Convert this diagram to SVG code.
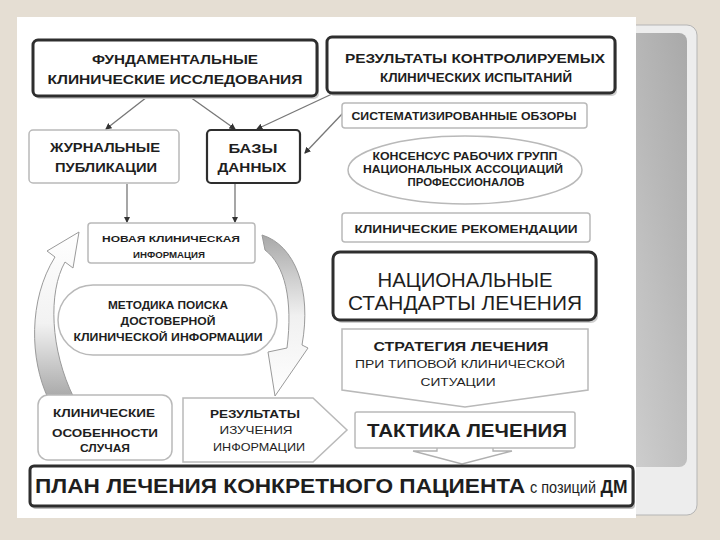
<svg xmlns="http://www.w3.org/2000/svg" width="720" height="540" viewBox="0 0 720 540">
<defs>
<linearGradient id="panel" x1="1" y1="0" x2="0" y2="1">
<stop offset="0" stop-color="#a9a9a9"/>
<stop offset="1" stop-color="#d6d6d6"/>
</linearGradient>
<linearGradient id="leftArr" x1="0" y1="0" x2="0" y2="1">
<stop offset="0" stop-color="#ffffff"/>
<stop offset="0.55" stop-color="#f2f2f2"/>
<stop offset="1" stop-color="#a8a8a8"/>
</linearGradient>
<linearGradient id="rightArr" x1="0" y1="0" x2="0" y2="1">
<stop offset="0" stop-color="#a8a8a8"/>
<stop offset="0.5" stop-color="#f0f0f0"/>
<stop offset="1" stop-color="#ffffff"/>
</linearGradient>
<marker id="dot" viewBox="0 0 6 6" refX="5" refY="3" markerWidth="5" markerHeight="5" orient="auto">
<path d="M0,0 L6,3 L0,6 Z" fill="#333"/>
</marker>
</defs>
<style>
text{font-family:"Liberation Sans",Arial,sans-serif;fill:#1e1e1e;text-anchor:middle}
.b{font-weight:bold}
.dark{fill:#fff;stroke:#2e2e2e;stroke-width:3}
.light{fill:#fff;stroke:#b9b9b9;stroke-width:1.5}
.shadow{fill:#cfcfcf}
.conn{stroke:#777;stroke-width:1.3;fill:none;marker-end:url(#dot)}
.curve{stroke:#9a9a9a;stroke-width:1;}
</style>
<rect x="0" y="0" width="720" height="540" fill="#e5ded3"/>
<rect x="20" y="25" width="677" height="490" rx="10" fill="#ededed" stroke="#b5b5b5" stroke-width="1"/>
<rect x="600" y="33" width="87" height="434" rx="8" fill="url(#panel)"/>
<rect x="17" y="17" width="619" height="501" fill="#ffffff"/>

<g id="connectors">
<line class="conn" x1="147" y1="97" x2="106" y2="129"/>
<line class="conn" x1="190" y1="97" x2="235" y2="129"/>
<line class="conn" x1="332" y1="94" x2="257" y2="129"/>
<line class="conn" x1="343" y1="113" x2="305" y2="153"/>
<line class="conn" x1="127" y1="184" x2="127" y2="222"/>
<line class="conn" x1="235" y1="184" x2="235" y2="222"/>
<path class="curve" fill="url(#leftArr)" d="M48 398 C30 360 28 300 55 257 L47 251 L79 232 L73 268 L65 262 C48 292 50 350 74 398 Z"/>
<path class="curve" fill="url(#rightArr)" d="M262 235 C295 245 312 290 302 345 L308 348 L275 396 L268 352 L287 348 C293 300 285 265 265 250 Z"/>
<polygon points="413,451 437,451 437,447 493,447 493,451 512,451 462,464" fill="#fff" stroke="#b0b0b0" stroke-width="1.3"/>
</g>

<g id="fund">
<rect x="35" y="43" width="284" height="56" rx="5" class="shadow"/>
<rect x="33" y="40" width="284" height="56" rx="5" class="dark"/>
<text class="b" x="175" y="64" font-size="13" textLength="166" lengthAdjust="spacingAndGlyphs">ФУНДАМЕНТАЛЬНЫЕ</text>
<text class="b" x="175" y="84" font-size="13" textLength="255" lengthAdjust="spacingAndGlyphs">КЛИНИЧЕСКИЕ ИССЛЕДОВАНИЯ</text>
</g>

<g id="results-trials">
<rect x="329" y="40" width="288" height="56" rx="5" class="shadow"/>
<rect x="327" y="37" width="288" height="56" rx="5" class="dark"/>
<text class="b" x="475" y="63" font-size="13" textLength="260" lengthAdjust="spacingAndGlyphs">РЕЗУЛЬТАТЫ КОНТРОЛИРУЕМЫХ</text>
<text class="b" x="476" y="82" font-size="13" textLength="192" lengthAdjust="spacingAndGlyphs">КЛИНИЧЕСКИХ ИСПЫТАНИЙ</text>
</g>

<g id="reviews">
<rect x="342" y="103" width="245" height="25" rx="3" class="light"/>
<text class="b" x="464" y="120" font-size="10.5" textLength="225" lengthAdjust="spacingAndGlyphs">СИСТЕМАТИЗИРОВАННЫЕ ОБЗОРЫ</text>
</g>

<g id="consensus">
<ellipse cx="465" cy="170" rx="117" ry="34" class="light"/>
<text class="b" x="465" y="160" font-size="10" textLength="185" lengthAdjust="spacingAndGlyphs">КОНСЕНСУС РАБОЧИХ ГРУПП</text>
<text class="b" x="463" y="173" font-size="10" textLength="200" lengthAdjust="spacingAndGlyphs">НАЦИОНАЛЬНЫХ АССОЦИАЦИЙ</text>
<text class="b" x="466" y="186" font-size="10" textLength="117" lengthAdjust="spacingAndGlyphs">ПРОФЕССИОНАЛОВ</text>
</g>

<g id="guidelines">
<rect x="342" y="213" width="248" height="29" rx="3" class="light"/>
<text class="b" x="466" y="233" font-size="11" textLength="223" lengthAdjust="spacingAndGlyphs">КЛИНИЧЕСКИЕ РЕКОМЕНДАЦИИ</text>
</g>

<g id="standards">
<rect x="335" y="255" width="263" height="68" rx="7" class="shadow"/>
<rect x="333" y="252" width="263" height="68" rx="7" class="dark"/>
<text x="465" y="287" font-size="20" textLength="175" lengthAdjust="spacingAndGlyphs">НАЦИОНАЛЬНЫЕ</text>
<text x="465" y="310" font-size="20" textLength="234" lengthAdjust="spacingAndGlyphs">СТАНДАРТЫ ЛЕЧЕНИЯ</text>
</g>

<g id="strategy">
<polygon points="342,329 588,329 588,390 465,407 342,390" class="light"/>
<text class="b" x="461" y="351" font-size="13" textLength="175" lengthAdjust="spacingAndGlyphs">СТРАТЕГИЯ ЛЕЧЕНИЯ</text>
<text x="460" y="368" font-size="11.5" textLength="210" lengthAdjust="spacingAndGlyphs">ПРИ ТИПОВОЙ КЛИНИЧЕСКОЙ</text>
<text x="458" y="386" font-size="11.5" textLength="75" lengthAdjust="spacingAndGlyphs">СИТУАЦИИ</text>
</g>

<g id="tactics">
<rect x="355" y="412" width="220" height="36" rx="2" class="light"/>
<text class="b" x="467" y="437" font-size="18" textLength="200" lengthAdjust="spacingAndGlyphs">ТАКТИКА ЛЕЧЕНИЯ</text>
</g>

<g id="plan">
<rect x="32" y="469" width="603" height="40" rx="4" fill="#bdbdbd"/>
<rect x="30" y="466" width="603" height="40" rx="4" class="dark"/>
<text class="b" x="280" y="493" font-size="20" textLength="490" lengthAdjust="spacingAndGlyphs">ПЛАН ЛЕЧЕНИЯ КОНКРЕТНОГО ПАЦИЕНТА</text>
<text x="563" y="493" font-size="16" textLength="66" lengthAdjust="spacingAndGlyphs">с позиций</text>
<text class="b" x="614" y="493" font-size="18" textLength="27" lengthAdjust="spacingAndGlyphs">ДМ</text>
</g>

<g id="journals">
<rect x="29" y="130" width="150" height="53" rx="4" class="light"/>
<text class="b" x="105" y="152" font-size="12" textLength="110" lengthAdjust="spacingAndGlyphs">ЖУРНАЛЬНЫЕ</text>
<text class="b" x="106" y="172" font-size="12" textLength="102" lengthAdjust="spacingAndGlyphs">ПУБЛИКАЦИИ</text>
</g>

<g id="databases">
<rect x="207" y="130" width="93" height="53" rx="4" fill="#fff" stroke="#2e2e2e" stroke-width="2.2"/>
<text class="b" x="253" y="153" font-size="12" textLength="49" lengthAdjust="spacingAndGlyphs">БАЗЫ</text>
<text class="b" x="252" y="172" font-size="12" textLength="69" lengthAdjust="spacingAndGlyphs">ДАННЫХ</text>
</g>

<g id="new-info">
<rect x="88" y="223" width="167" height="40" rx="3" class="light"/>
<text class="b" x="171" y="242" font-size="9.5" textLength="138" lengthAdjust="spacingAndGlyphs">НОВАЯ КЛИНИЧЕСКАЯ</text>
<text class="b" x="169" y="258" font-size="9.5" textLength="72" lengthAdjust="spacingAndGlyphs">ИНФОРМАЦИЯ</text>
</g>

<g id="method">
<rect x="58" y="285" width="219" height="70" rx="35" class="light"/>
<text class="b" x="168" y="309" font-size="10.5" textLength="120" lengthAdjust="spacingAndGlyphs">МЕТОДИКА ПОИСКА</text>
<text class="b" x="168" y="325" font-size="10.5" textLength="95" lengthAdjust="spacingAndGlyphs">ДОСТОВЕРНОЙ</text>
<text class="b" x="168" y="341" font-size="10.5" textLength="189" lengthAdjust="spacingAndGlyphs">КЛИНИЧЕСКОЙ ИНФОРМАЦИИ</text>
</g>

<g id="case">
<rect x="38" y="395" width="134" height="65" rx="10" class="light"/>
<text class="b" x="104" y="417" font-size="11" textLength="102" lengthAdjust="spacingAndGlyphs">КЛИНИЧЕСКИЕ</text>
<text class="b" x="105" y="437" font-size="11" textLength="106" lengthAdjust="spacingAndGlyphs">ОСОБЕННОСТИ</text>
<text class="b" x="105" y="452" font-size="11" textLength="50" lengthAdjust="spacingAndGlyphs">СЛУЧАЯ</text>
</g>

<g id="study-results">
<polygon points="183,398 313,398 347,430 313,462 183,462" class="light"/>
<text class="b" x="255" y="418" font-size="11" textLength="90" lengthAdjust="spacingAndGlyphs">РЕЗУЛЬТАТЫ</text>
<text x="256" y="434" font-size="10.5" textLength="73" lengthAdjust="spacingAndGlyphs">ИЗУЧЕНИЯ</text>
<text x="259" y="451" font-size="10.5" textLength="92" lengthAdjust="spacingAndGlyphs">ИНФОРМАЦИИ</text>
</g>
</svg>
